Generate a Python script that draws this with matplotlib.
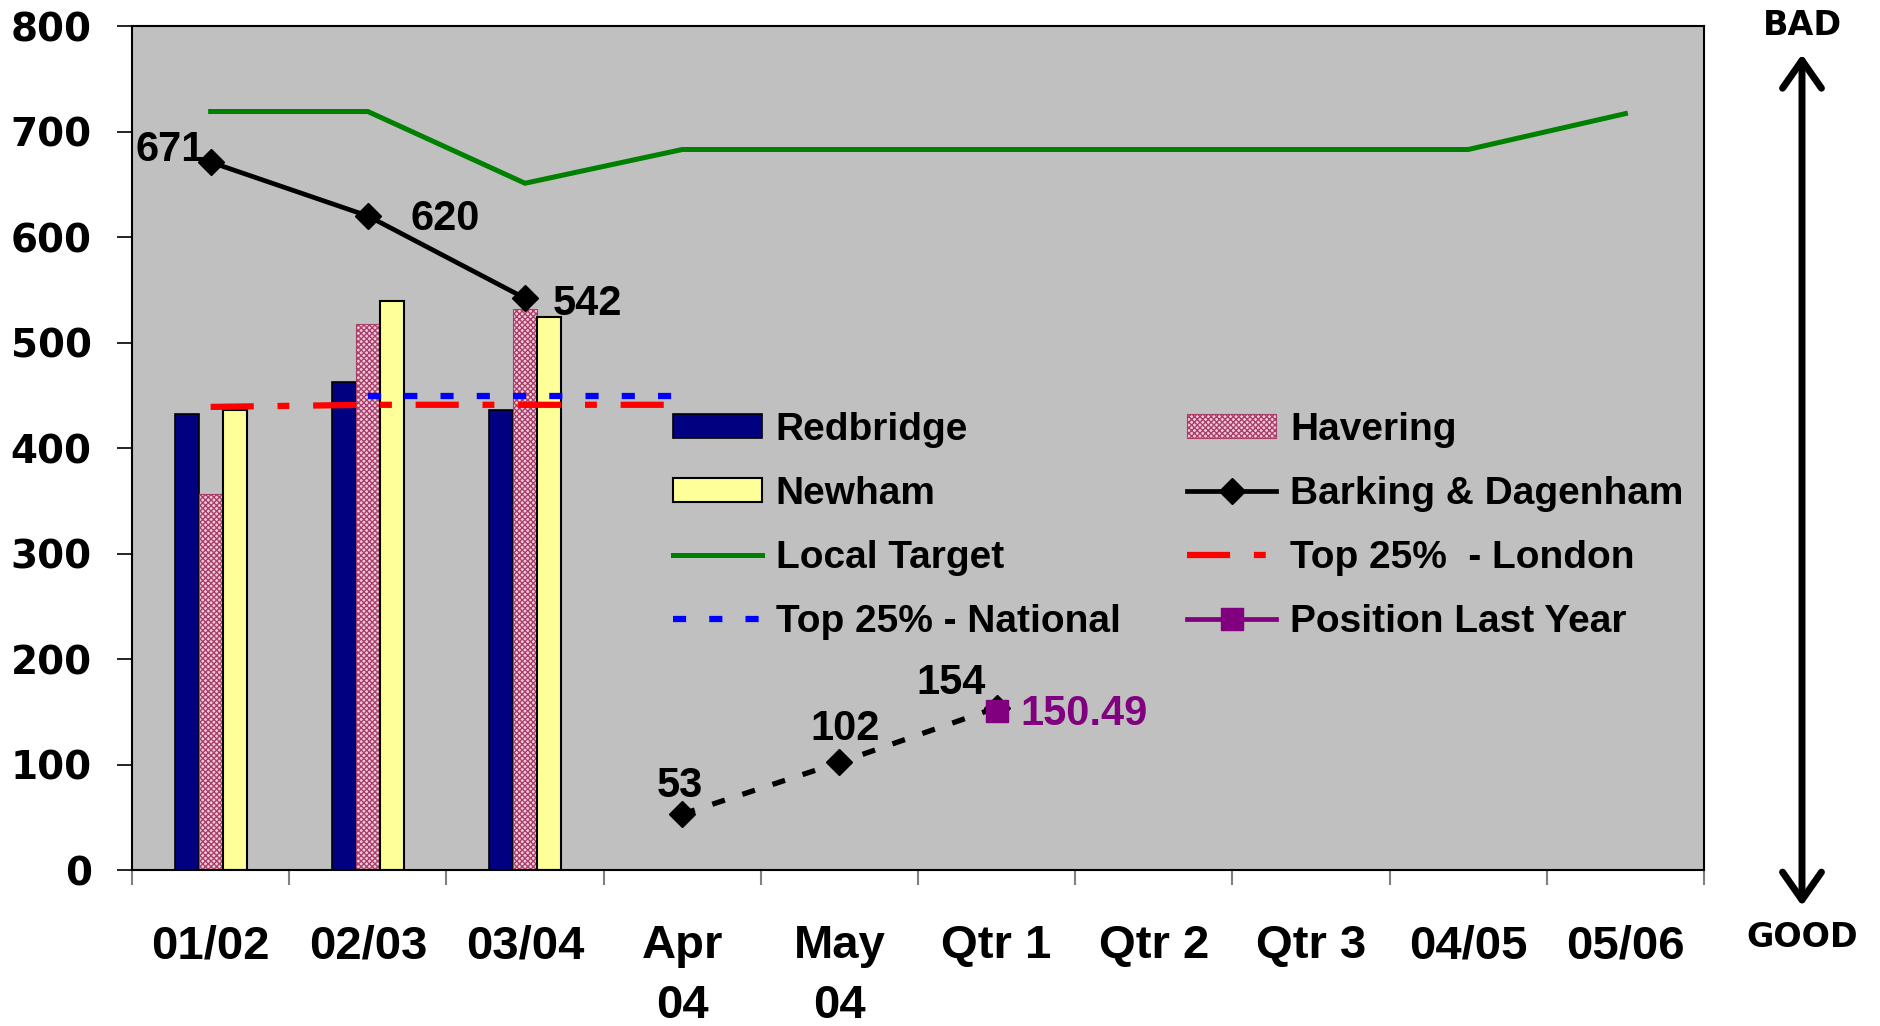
import numpy as np
import matplotlib
matplotlib.use("Agg")
import matplotlib.pyplot as plt
from matplotlib.patches import FancyArrowPatch

nan = np.nan

# categories along the x axis
categories = ["01/02", "02/03", "03/04", "Apr\n04", "May\n04",
              "Qtr 1", "Qtr 2", "Qtr 3", "04/05", "05/06"]

# yearly bars (first three categories)
redbridge = [432, 463, 436]
havering = [356, 518, 532]
newham = [436, 539, 524]

# Barking & Dagenham: yearly (solid) and monthly (dashed)
barking = [671, 620, 542, nan, nan, nan, nan, nan, nan, nan]
barking_monthly = [nan, nan, nan, 53, 102, 154, nan, nan, nan, nan]

local_target = [719, 719, 651, 683, 683, 683, 683, 683, 683, 717]
top25_london = [439, 441, 441, 441, nan, nan, nan, nan, nan, nan]
top25_national = [nan, 449, 449, 449, nan, nan, nan, nan, nan, nan]
last_year = [nan, nan, nan, nan, nan, 150.49, nan, nan, nan, nan]

yticks = [0, 100, 200, 300, 400, 500, 600, 700, 800]

BOLD = dict(family=["Liberation Sans", "DejaVu Sans"], weight="bold")
WIDE = dict(family=["DejaVu Sans"], weight="bold")

fig = plt.figure(figsize=(18.81, 10.26), dpi=100)
ax = fig.add_axes([0.0702, 0.152, 0.8357, 0.8226])
ax.set_facecolor("#C0C0C0")

x = np.arange(len(categories))
w = 0.153
nb = len(redbridge)

b1 = ax.bar(x[:nb] - w, redbridge, w, color="#000080", edgecolor="black",
            lw=1.2, label="Redbridge", zorder=2)
b2 = ax.bar(x[:nb], havering, w, color="#F4CCDA", edgecolor="#A8406C",
            hatch="xxxxxx", lw=0.8, label="Havering", zorder=2)
b3 = ax.bar(x[:nb] + w, newham, w, color="#FFFF99", edgecolor="black",
            lw=1.5, label="Newham", zorder=2)

l_target, = ax.plot(x, local_target, color="#008000", lw=3.6,
                    label="Local Target", zorder=3)
l_lon, = ax.plot(x, top25_london, color="#FF0000", lw=4.5,
                 ls=(0, (6.9, 3.8, 1.9, 3.8)), label="Top 25%  - London", zorder=3)
l_nat, = ax.plot(x, top25_national, color="#0000FF", lw=4.5,
                 ls=(0, (2.1, 3.7)), label="Top 25% - National", zorder=3)
l_bd, = ax.plot(x, barking, color="black", lw=3.4, marker="D", ms=13.5,
                label="Barking & Dagenham", zorder=4)
ax.plot(x, barking_monthly, color="black", lw=3.8, ls=(0, (2.5, 3.5)),
        marker="D", ms=13.5, zorder=4)
l_ly, = ax.plot(x, last_year, color="#800080", lw=3.4, marker="s", ms=16,
                label="Position Last Year", zorder=5)

# value labels
offsets = {0: (-4, 9, "right", "center"), 1: (31, -2, "left", "center"),
           2: (20, -4, "left", "center")}
for i, v in enumerate(barking):
    if not np.isnan(v):
        dx, dy, ha, va = offsets[i]
        ax.annotate(f"{v:.0f}", (x[i], v), xytext=(dx, dy),
                    textcoords="offset points", ha=ha, va=va,
                    fontsize=30, zorder=6, **BOLD)
moffs = {3: (-2, 20), 4: (4, 24), 5: (-33, 18)}
for i, v in enumerate(barking_monthly):
    if not np.isnan(v):
        dx, dy = moffs[i]
        ax.annotate(f"{v:.0f}", (x[i], v), xytext=(dx, dy),
                    textcoords="offset points", ha="center", va="center",
                    fontsize=30, zorder=6, **BOLD)
for i, v in enumerate(last_year):
    if not np.isnan(v):
        ax.annotate(f"{v:.2f}", (x[i], v), xytext=(17, -2),
                    textcoords="offset points", ha="left", va="center",
                    fontsize=30, color="#800080", zorder=6, **BOLD)

ax.set_xlim(-0.5, len(categories) - 0.5)
ax.set_ylim(0, 800)

# x: boundary ticks (major), labels on minor ticks
ax.set_xticks(np.arange(len(categories) + 1) - 0.5)
ax.set_xticklabels([])
ax.set_xticks(x, labels=categories, minor=True)
ax.tick_params(axis="x", which="major", direction="out", length=11,
               width=1.5, color="#808080")
ax.tick_params(axis="x", which="minor", length=0, pad=39)
for lbl in ax.get_xticklabels(minor=True):
    lbl.set_fontsize(34)
    lbl.set_fontfamily(BOLD["family"])
    lbl.set_fontweight("bold")
    lbl.set_linespacing(1.45)

ax.set_yticks(yticks)
ax.tick_params(axis="y", direction="out", length=11, width=1.2,
               color="black", pad=18)
for lbl in ax.get_yticklabels():
    lbl.set_fontsize(28)
    lbl.set_fontfamily(WIDE["family"])
    lbl.set_fontweight("bold")

for s in ax.spines.values():
    s.set_linewidth(1.5)
    s.set_color("black")

handles = [b1, b3, l_target, l_nat, b2, l_bd, l_lon, l_ly]
ax.legend(handles=handles, ncol=2, loc="upper left",
          bbox_to_anchor=(0.344, 0.543), frameon=False, borderpad=0,
          borderaxespad=0, handlelength=2.3, handleheight=0.55,
          handletextpad=0.35, columnspacing=1.7, labelspacing=0.72,
          prop=dict(family=BOLD["family"], weight="bold", size=28))

# BAD / GOOD arrow at the right
fig.add_artist(FancyArrowPatch((0.958, 0.117), (0.958, 0.947),
                               transform=fig.transFigure, shrinkA=0, shrinkB=0,
                               arrowstyle="<->,head_length=2.0,head_width=1.4",
                               mutation_scale=10, lw=5, color="black"))
fig.text(0.958, 0.975, "BAD", ha="center", va="center", fontsize=24, **WIDE)
fig.text(0.958, 0.086, "GOOD", ha="center", va="center", fontsize=24, **WIDE)

fig.savefig("out.png", dpi=100)
